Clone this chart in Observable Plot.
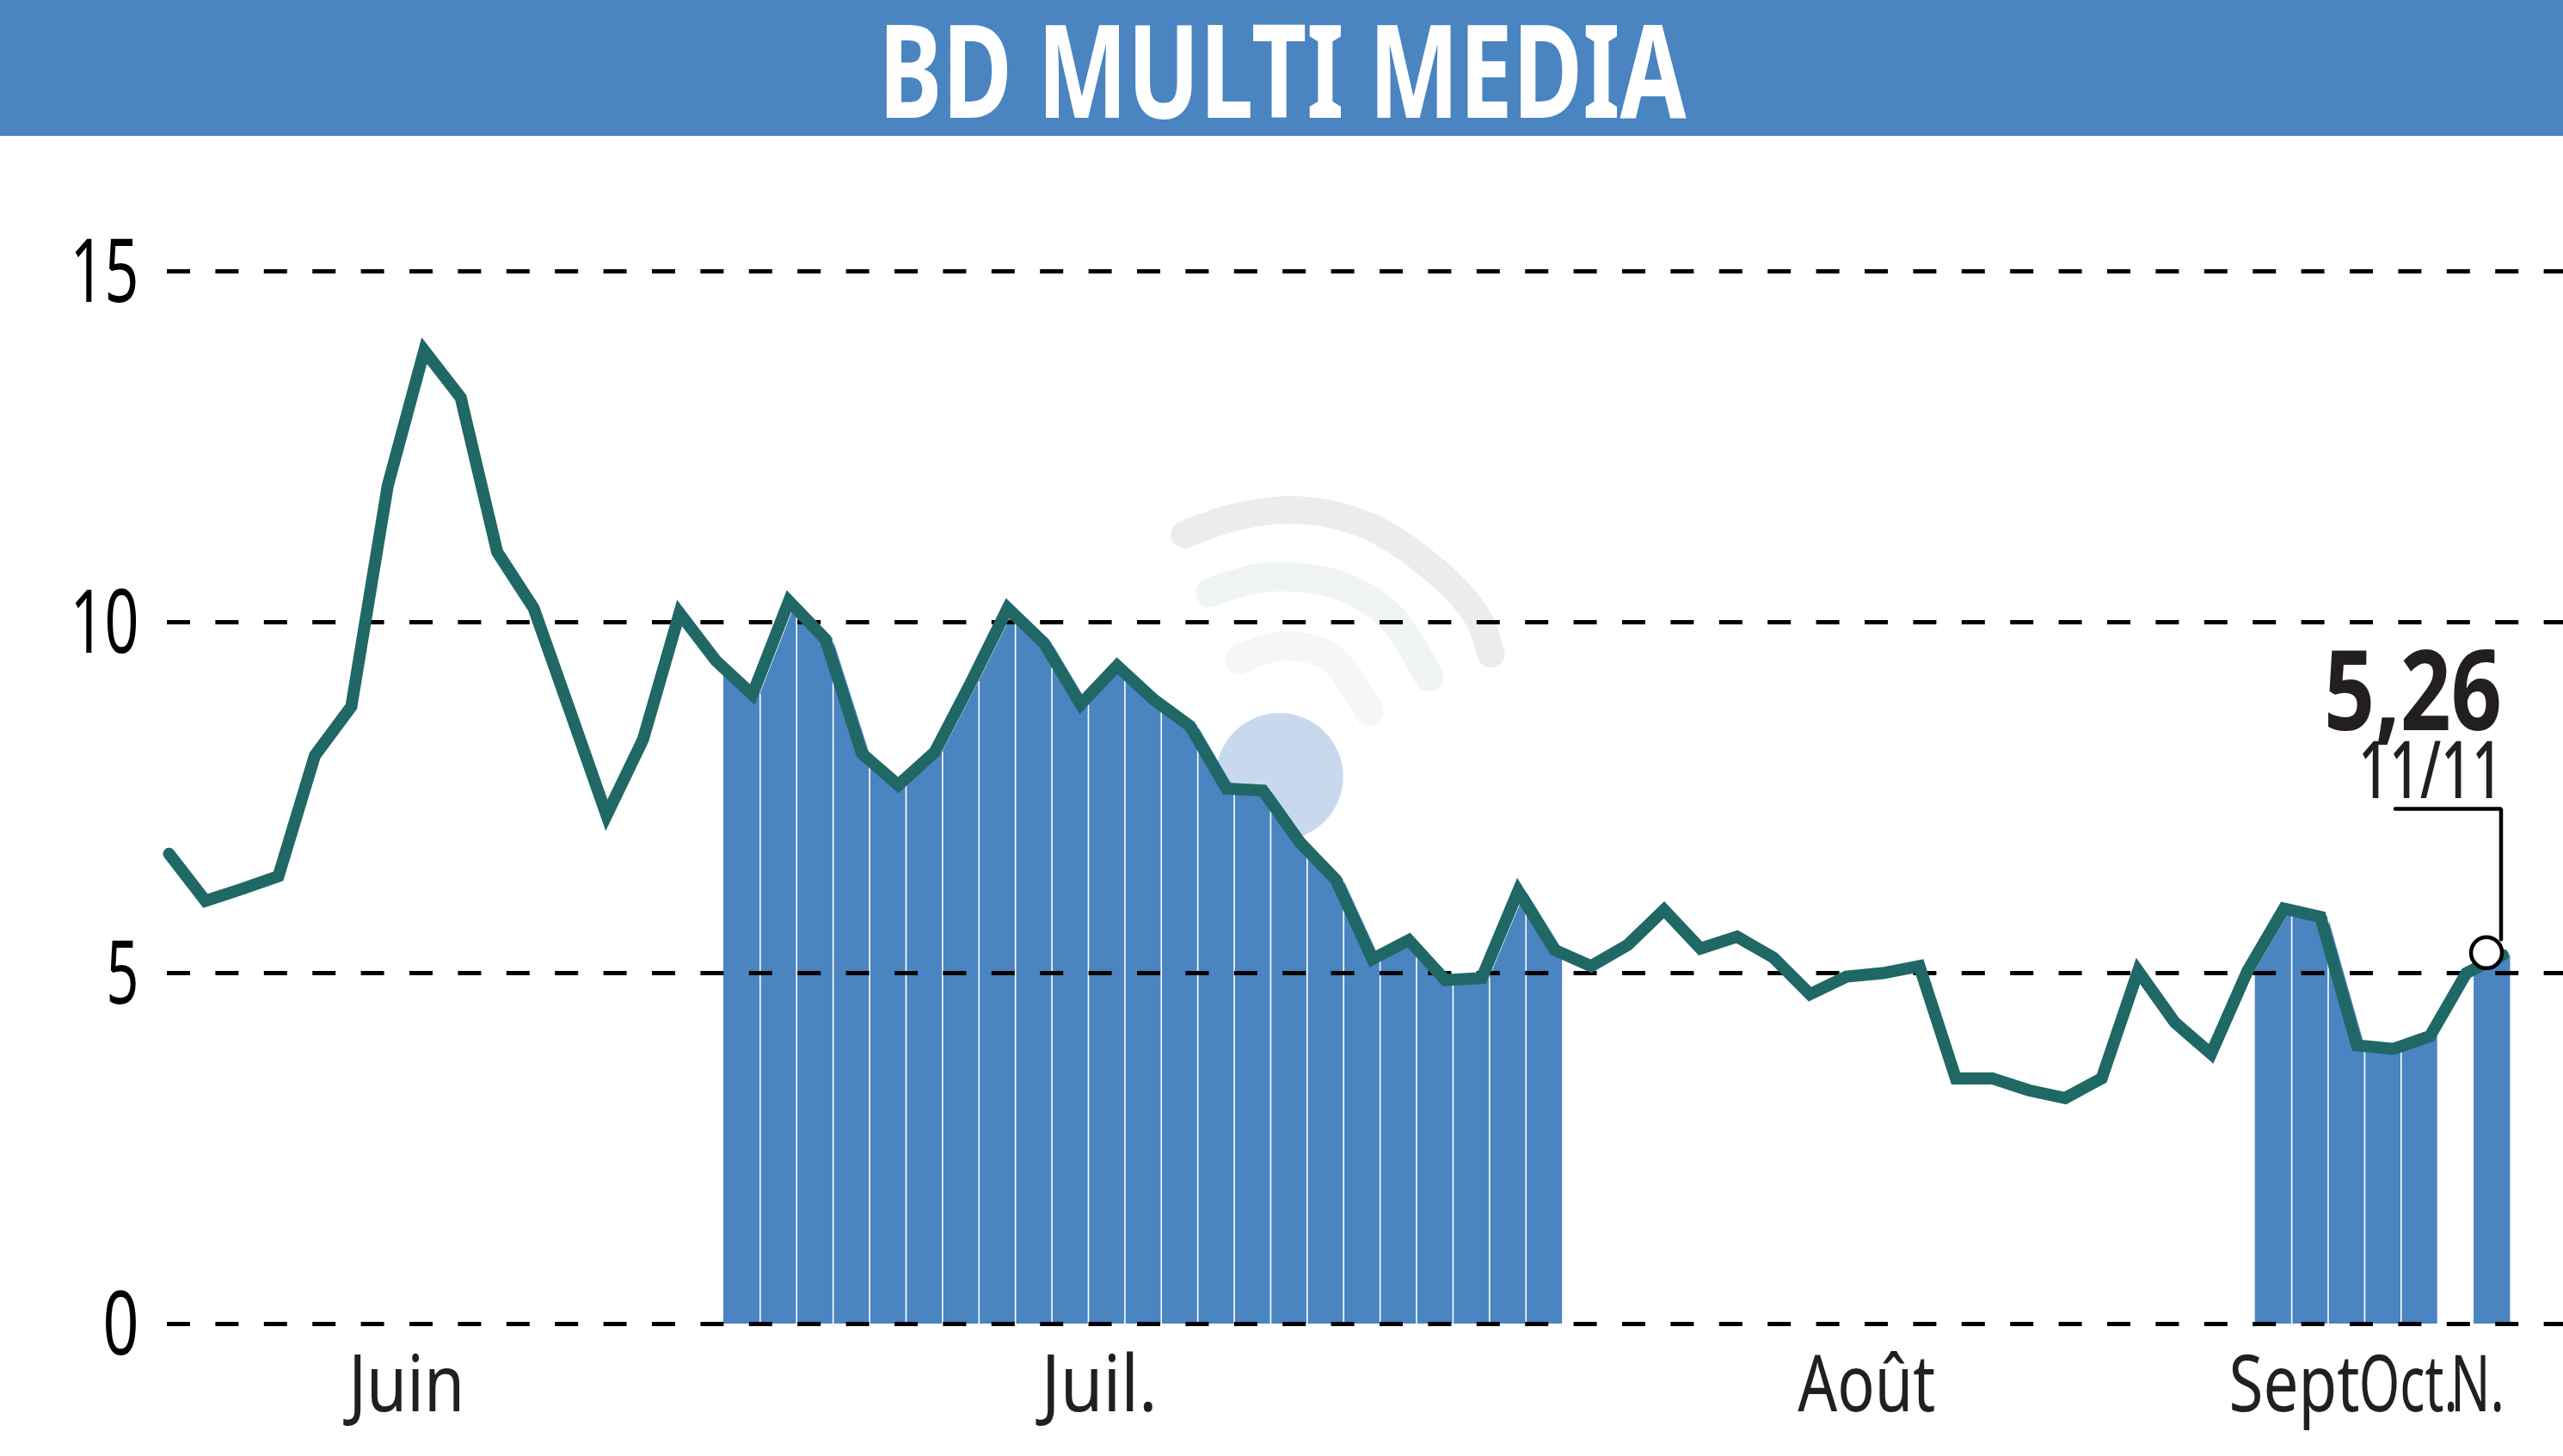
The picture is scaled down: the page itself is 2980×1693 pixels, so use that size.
<!DOCTYPE html>
<html lang="fr">
<head>
<meta charset="utf-8">
<title>BD MULTI MEDIA</title>
<script src="https://cdn.jsdelivr.net/npm/d3@7"></script>
<script src="https://cdn.jsdelivr.net/npm/@observablehq/plot@0.6"></script>
<style>
html,body{margin:0;padding:0;background:#fff;overflow:hidden}
svg{display:block}
</style>
</head>
<body>
<svg id="banner" width="2980" height="158"><rect width="2980" height="158" fill="#4a84c1"></rect><text id="bannerText" x="1491" y="137" text-anchor="middle" fill="#fff" font-family="'Noto Sans',sans-serif" font-weight="bold" font-size="150" textLength="939" lengthAdjust="spacingAndGlyphs"></text></svg>
<div id="chart"></div>
<script>
const titleText = "BD MULTI MEDIA";
const prices = [6.7,6.03,6.2,6.38,8.1,8.8,11.95,13.87,13.2,11.0,10.2,8.73,7.25,8.33,10.13,9.45,8.97,10.3,9.76,8.13,7.68,8.15,9.15,10.2,9.7,8.83,9.38,8.9,8.52,7.63,7.6,6.87,6.33,5.2,5.47,4.9,4.93,6.17,5.33,5.1,5.4,5.9,5.35,5.52,5.22,4.7,4.95,5.0,5.1,3.5,3.5,3.33,3.22,3.5,5.03,4.3,3.85,5.03,5.92,5.8,3.97,3.92,4.1,5.0,5.26];
const volumeRuns = [[15,38],[57,62],[63,64]];
const yTicks = [0,5,10,15];
const monthLabels = ["Juin","Juil.","Août","Sept","Oct.","N."];
const monthPositions = [6.56,25.56,46.6,58.33,61.46,63.35];
const lastValueLabel = "5,26";
const lastDateLabel = "11/11";
const callout = [{x:61.1,y:7.34},{x:64,y:7.34},{x:64,y:5.48}];
const marker = [{x:63.6,y:5.29}];
const logoBall = [{x:30.5,y:7.8}];
const logoOuter = [[27.9,11.25],[29.3,11.5],[31.0,11.6],[32.8,11.4],[34.6,10.81],[35.9,10.1],[36.3,9.55]];
const logoMiddle = [[28.6,10.42],[30.1,10.64],[32.05,10.54],[33.5,10.1],[34.6,9.22]];
const logoInner = [[29.4,9.47],[30.5,9.66],[31.9,9.5],[32.95,8.73]];

const points = prices.map((v,i)=>({i,v}));
const runPoints = volumeRuns.flatMap(([a,b],k)=>points.slice(a,b+1).map(p=>({...p,run:k})));
const separators = volumeRuns.flatMap(([a,b])=>points.slice(a+1,b));
const FONT = '"Noto Sans",sans-serif';
const INK = "#231f20";
const BLUE = "#4a84c1";
const logo = (pts,color,w)=>Plot.line(pts,{x:d=>d[0],y:d=>d[1],curve:"catmull-rom",stroke:color,strokeWidth:w,strokeLinecap:"round"});

document.getElementById("bannerText").textContent = titleText;

const chart = Plot.plot({
  width:2980,height:1535,
  marginLeft:194,marginRight:0,marginTop:157,marginBottom:154,
  style:{fontFamily:FONT,background:"#fff",overflow:"visible"},
  x:{type:"linear",domain:[0,65.71],axis:null},
  y:{domain:[0,15],axis:null},
  marks:[
    logo(logoOuter,"#ebedea",32),
    logo(logoMiddle,"#f1f5f1",34),
    logo(logoInner,"#f4f7f4",34),
    Plot.dot(logoBall,{x:"x",y:"y",r:74,fill:"#c9d9ed"}),
    Plot.areaY(runPoints,{x:"i",y:"v",z:"run",fill:BLUE,dx:11,curve:"linear"}),
    Plot.ruleX(separators,{x:"i",y1:0,y2:"v",stroke:"#fff",strokeWidth:1.6,dx:11}),
    Plot.ruleY(yTicks,{stroke:"#000",strokeWidth:5,strokeDasharray:"27,29.4"}),
    Plot.line(points,{x:"i",y:"v",dx:2,stroke:"#1f6866",strokeWidth:14,strokeLinejoin:"miter",strokeMiterlimit:3,curve:"linear"}),
    Plot.line(callout,{x:"x",y:"y",stroke:"#000",strokeWidth:4.5,strokeLinejoin:"miter"}),
    Plot.dot(marker,{x:"x",y:"y",r:18,fill:"#fff",stroke:"#000",strokeWidth:4.5}),
    Plot.axisY({ticks:yTicks,tickSize:0,tickPadding:33,fontSize:102,fill:"#000",label:null,dy:3}),
    Plot.axisX({ticks:monthPositions,tickSize:0,tickPadding:36,fontSize:92,fill:INK,label:null,
      tickFormat:d=>monthLabels[monthPositions.indexOf(d)]}),
    Plot.text([lastValueLabel],{x:[64],y:[8.46],text:d=>d,textAnchor:"end",fontSize:129,fontWeight:"bold",fill:INK,dx:1,lineAnchor:"bottom"}),
    Plot.text([lastDateLabel],{x:[64],y:[7.5],text:d=>d,textAnchor:"end",fontSize:92,fontWeight:500,fill:INK,dx:2,lineAnchor:"bottom"})
  ]
});
document.getElementById("chart").append(chart);
// The original face is condensed: fit each installed-font label to its measured width.
const fittedWidths = {"0":42,"5":38,"10":80,"15":80,"Juin":135,"Juil.":135,"Août":160,"Sept":152,"Oct.":115,"N.":63,"5,26":207,"11/11":168};
document.fonts.ready.then(()=>{
  chart.querySelectorAll("text").forEach(t=>{
    const w=fittedWidths[t.textContent.trim()];
    if(w){t.setAttribute("textLength",w);t.setAttribute("lengthAdjust","spacingAndGlyphs");}
  });
});
</script>
</body>
</html>
